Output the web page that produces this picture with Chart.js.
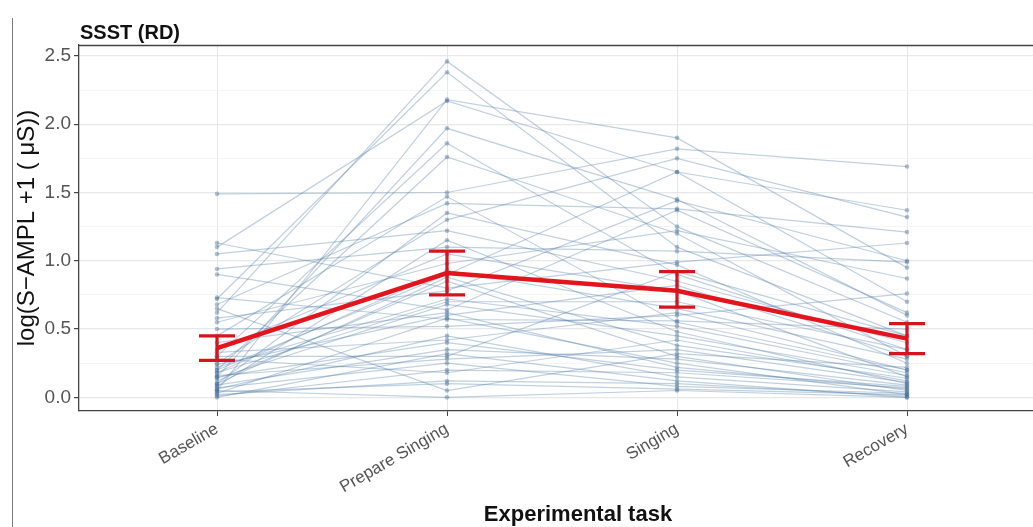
<!DOCTYPE html>
<html>
<head>
<meta charset="utf-8">
<script src="https://cdn.jsdelivr.net/npm/chart.js@4.4.1/dist/chart.umd.min.js"></script>
<style>
  html, body { margin: 0; padding: 0; background: #fff; overflow: hidden; width: 1033px; height: 527px; }
  #wrap { position: absolute; left: 0; top: 0; width: 1060px; height: 527px; }
  #edge { position: absolute; left: 12px; top: 18px; width: 1px; height: 509px; background: #7a7a7a; }
</style>
</head>
<body>
<div id="wrap"><canvas id="chart" width="1060" height="527"></canvas></div>
<div id="edge"></div>
<script>
// Experimental phases on the x axis
const tasks = ['Baseline', 'Prepare Singing', 'Singing', 'Recovery'];

// Per-participant log(S-AMPL + 1) values, one entry per participant in each phase
const baseline = [0.62, 0.72, 0.05, 1.10, 0.15, 0.30, 0.20, 1.49, 0.45, 0.68, 0.10, 0.25, 1.05, 0.08, 0.94, 0.35,
                  0.55, 0.18, 0.12, 1.13, 0.22, 0.03, 0.50, 0.15, 0.00, 0.07, 0.28, 0.02, 0.65, 0.05, 0.90, 0.18,
                  0.73, 0.10, 0.30, 0.40, 0.06, 0.24, 0.14, 0.01, 0.20, 0.58, 0.09, 0.33, 0.04, 0.16];
const prepareSinging = [2.46, 2.38, 2.18, 2.17, 1.97, 1.86, 1.76, 1.50, 1.47, 1.42, 1.35, 1.30, 1.22, 1.15, 1.10, 1.05,
                  0.98, 0.93, 0.85, 0.80, 0.72, 0.58, 0.52, 0.40, 0.32, 0.25, 0.18, 0.12, 0.05, 0.00, 0.64, 0.70,
                  0.57, 0.88, 0.30, 0.62, 0.45, 0.60, 0.68, 0.20, 0.90, 0.78, 0.35, 0.42, 0.10, 0.28];
const singing = [1.25, 1.10, 1.90, 1.65, 1.45, 0.90, 1.20, 1.82, 0.55, 1.38, 0.97, 1.75, 0.85, 0.48, 1.07, 0.78,
                  1.22, 0.65, 0.30, 0.99, 0.52, 0.25, 0.60, 0.20, 0.12, 0.08, 0.42, 0.10, 0.32, 0.05, 1.37, 0.70,
                  0.56, 0.38, 0.92, 0.22, 0.15, 0.82, 0.45, 0.18, 1.65, 1.44, 0.28, 0.62, 0.06, 0.35];
const recovery = [0.55, 0.45, 0.95, 1.37, 0.60, 0.35, 0.30, 1.69, 0.20, 1.21, 0.25, 1.32, 0.40, 0.10, 0.99, 0.15,
                  0.87, 0.28, 0.05, 1.13, 0.18, 0.02, 0.76, 0.08, 0.00, 0.03, 0.12, 0.01, 0.22, 0.00, 0.62, 0.35,
                  0.50, 0.14, 0.45, 0.06, 0.04, 0.30, 0.16, 0.07, 0.70, 1.00, 0.09, 0.20, 0.02, 0.11];

// Group mean with its error-bar limits per phase
const meanValues = [0.36, 0.91, 0.78, 0.43];
const errLower   = [0.27, 0.75, 0.66, 0.32];
const errUpper   = [0.45, 1.07, 0.92, 0.54];

// Y axis: labelled ticks every 0.5, extra grid lines every 0.25
const yTickValues = [0, 0.25, 0.5, 0.75, 1, 1.25, 1.5, 1.75, 2, 2.25, 2.5];

const phases = [baseline, prepareSinging, singing, recovery];

const subjectSets = baseline.map((_, i) => ({
  type: 'line',
  data: phases.map((arr, k) => ({ x: k, y: arr[i] })),
  borderColor: 'rgba(80, 125, 170, 0.36)',
  borderWidth: 1.2,
  pointRadius: 2.3,
  pointBorderWidth: 0,
  pointBackgroundColor: 'rgba(70, 110, 150, 0.42)',
  tension: 0,
  order: 2
}));

const meanSet = {
  type: 'line',
  data: meanValues.map((v, k) => ({ x: k, y: v })),
  borderColor: '#e3141b',
  borderWidth: 4.5,
  pointRadius: 0,
  tension: 0,
  order: 0
};

const isMajor = (v) => Math.abs(v * 2 - Math.round(v * 2)) < 1e-9;

// Error bars, panel top border and text placed relative to the chart area
const decorations = {
  id: 'decorations',
  afterDatasetsDraw(chart) {
    const { ctx, scales } = chart;
    const xs = scales.x, ys = scales.y;
    ctx.save();
    ctx.strokeStyle = '#d7141b';
    ctx.lineWidth = 3.2;
    meanValues.forEach((m, k) => {
      const px = xs.getPixelForValue(k);
      const lo = ys.getPixelForValue(errLower[k]);
      const hi = ys.getPixelForValue(errUpper[k]);
      ctx.beginPath();
      ctx.moveTo(px, lo); ctx.lineTo(px, hi);
      ctx.moveTo(px - 18, lo); ctx.lineTo(px + 18, lo);
      ctx.moveTo(px - 18, hi); ctx.lineTo(px + 18, hi);
      ctx.stroke();
    });
    ctx.restore();
  },
  afterDraw(chart) {
    const { ctx, chartArea } = chart;
    ctx.save();
    ctx.strokeStyle = '#444';
    ctx.lineWidth = 1.3;
    ctx.beginPath();
    ctx.moveTo(chartArea.left, chartArea.top + 0.5);
    ctx.lineTo(chartArea.right, chartArea.top + 0.5);
    ctx.stroke();

    ctx.fillStyle = '#111';
    ctx.font = 'bold 20px "Liberation Sans", Arial, sans-serif';
    ctx.textBaseline = 'alphabetic';
    ctx.textAlign = 'left';
    ctx.fillText('SSST (RD)', chartArea.left + 1, 39);

    ctx.font = 'bold 22px "Liberation Sans", Arial, sans-serif';
    ctx.textAlign = 'center';
    ctx.fillText('Experimental task', 578, 521);

    ctx.translate(34, (chartArea.top + chartArea.bottom) / 2);
    ctx.rotate(-Math.PI / 2);
    ctx.font = '24px "Liberation Sans", Arial, sans-serif';
    ctx.fillText('log(S\u2212AMPL +1 ( \u03bcS))', 0, 0);
    ctx.restore();
  }
};

new Chart(document.getElementById('chart'), {
  type: 'line',
  data: { datasets: [meanSet, ...subjectSets] },
  options: {
    responsive: false,
    animation: false,
    devicePixelRatio: 1,
    layout: { padding: { top: 45, right: 15, left: 0, bottom: 0 } },
    plugins: { legend: { display: false }, tooltip: { enabled: false }, title: { display: false } },
    scales: {
      x: {
        type: 'linear',
        min: -0.6,
        max: 3.6,
        afterBuildTicks(scale) { scale.ticks = tasks.map((_, i) => ({ value: i })); },
        afterFit(scale) { scale.height = 116; },
        ticks: {
          callback: (v) => tasks[v],
          minRotation: 30,
          maxRotation: 30,
          autoSkip: false,
          padding: 3,
          color: '#555',
          font: { family: '"Liberation Sans", Arial, sans-serif', size: 17 }
        },
        grid: { color: '#e3e8ed', lineWidth: 1, tickLength: 5, tickColor: '#444', drawTicks: true },
        border: { color: '#444', width: 1.3 }
      },
      y: {
        type: 'linear',
        min: -0.1,
        max: 2.58,
        afterBuildTicks(scale) { scale.ticks = yTickValues.map(v => ({ value: v })); },
        afterFit(scale) { scale.width = 79; },
        ticks: {
          callback: (v) => (isMajor(v) ? v.toFixed(1) : ''),
          padding: 3,
          color: '#555',
          font: { family: '"Liberation Sans", Arial, sans-serif', size: 19 }
        },
        grid: {
          color: (c) => (c.tick && isMajor(c.tick.value) ? '#e8e8e8' : '#f2f2f2'),
          lineWidth: (c) => (c.tick && isMajor(c.tick.value) ? 1.2 : 0.8),
          tickLength: 5,
          tickColor: (c) => (c.tick && isMajor(c.tick.value) ? '#444' : 'rgba(0,0,0,0)')
        },
        border: { color: '#444', width: 1.3 }
      }
    }
  },
  plugins: [decorations]
});
</script>
</body>
</html>
